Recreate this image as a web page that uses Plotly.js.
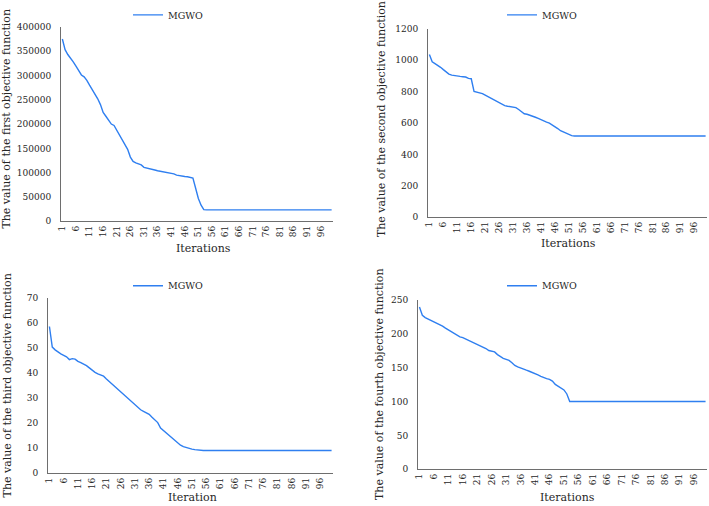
<!DOCTYPE html>
<html>
<head>
<meta charset="utf-8">
<script src="https://cdn.plot.ly/plotly-3.0.1.min.js"></script>
<style>html,body{margin:0;padding:0;background:#fff;}#chart{width:709px;height:506px;}</style>
</head>
<body>
<div id="chart"></div>
<script>
// Iteration index 1..100
var iterations = [];
for (var k = 1; k <= 100; k++) iterations.push(k);

var seriesName = "MGWO";
var iterTickVals = [1, 6, 11, 16, 21, 26, 31, 36, 41, 46, 51, 56, 61, 66, 71, 76, 81, 86, 91, 96];
var iterTickText = ["1", "6", "11", "16", "21", "26", "31", "36", "41", "46", "51", "56", "61", "66", "71", "76", "81", "86", "91", "96"];

var f1 = [375000, 353000, 343000, 336000, 328000, 319000, 310000, 301000, 297000, 290000,
          280000, 271000, 262000, 252000, 240000, 224000, 216000, 209000, 200000, 197000,
          187000, 175000, 165000, 156000, 148000, 132000, 123000, 120000, 118000, 116000,
          111000, 110000, 109000, 107000, 105500, 104000, 103000, 102000, 101000, 100000,
          99000, 97500, 95000, 93500, 92500, 92000, 91500, 90500, 89000, 68000,
          47000, 33000, 24000, 23500, 23500, 23500, 23500, 23500, 23500, 23500,
          23500, 23500, 23500, 23500, 23500, 23500, 23500, 23500, 23500, 23500,
          23500, 23500, 23500, 23500, 23500, 23500, 23500, 23500, 23500, 23500,
          23500, 23500, 23500, 23500, 23500, 23500, 23500, 23500, 23500, 23500,
          23500, 23500, 23500, 23500, 23500, 23500, 23500, 23500, 23500, 23500];

var f2 = [1036, 990, 978, 968, 955, 940, 925, 912, 905, 901,
          899, 897, 895, 893, 884, 882, 801, 797, 793, 787,
          778, 768, 758, 748, 738, 727, 717, 711, 707, 704,
          701, 698, 686, 672, 659, 656, 651, 645, 637, 630,
          621, 613, 606, 600, 590, 578, 565, 551, 542, 533,
          525, 520, 518, 518, 518, 518, 518, 518, 518, 518,
          518, 518, 518, 518, 518, 518, 518, 518, 518, 518,
          518, 518, 518, 518, 518, 518, 518, 518, 518, 518,
          518, 518, 518, 518, 518, 518, 518, 518, 518, 518,
          518, 518, 518, 518, 518, 518, 518, 518, 518, 518];

var f3 = [58.5, 50.3, 49.2, 48.3, 47.6, 47.0, 46.4, 45.3, 45.7, 45.5,
          44.6, 44.1, 43.6, 42.9, 42.0, 41.0, 40.2, 39.6, 39.1, 38.7,
          37.6, 36.6, 35.5, 34.5, 33.4, 32.4, 31.4, 30.4, 29.4, 28.4,
          27.3, 26.3, 25.3, 24.7, 24.2, 23.5, 22.3, 21.3, 20.2, 18.0,
          17.0, 16.0, 15.0, 14.0, 13.0, 12.0, 11.2, 10.6, 10.2, 9.9,
          9.6, 9.4, 9.2, 9.1, 9.1, 9.1, 9.1, 9.1, 9.1, 9.1,
          9.1, 9.1, 9.1, 9.1, 9.1, 9.1, 9.1, 9.1, 9.1, 9.1,
          9.1, 9.1, 9.1, 9.1, 9.1, 9.1, 9.1, 9.1, 9.1, 9.1,
          9.1, 9.1, 9.1, 9.1, 9.1, 9.1, 9.1, 9.1, 9.1, 9.1,
          9.1, 9.1, 9.1, 9.1, 9.1, 9.1, 9.1, 9.1, 9.1, 9.1];

var f4 = [239, 227, 223.5, 221.5, 220, 218, 216, 214, 211, 208,
          205.5, 202.5, 200, 197.5, 195, 194, 192, 190, 188.5, 187,
          184.5, 182, 180, 178, 175, 173.5, 173, 169, 166, 163.5,
          162, 160.5, 157, 153, 151, 149, 147, 146, 144.5, 143,
          141, 139, 137, 135, 133.5, 132.5, 130, 125, 122, 120,
          117, 111, 100, 100, 100, 100, 100, 100, 100, 100,
          100, 100, 100, 100, 100, 100, 100, 100, 100, 100,
          100, 100, 100, 100, 100, 100, 100, 100, 100, 100,
          100, 100, 100, 100, 100, 100, 100, 100, 100, 100,
          100, 100, 100, 100, 100, 100, 100, 100, 100, 100];

var yTitles = ["The value of the first objective function",
               "The value of the second objective function",
               "The value of the third objective function",
               "The value of the fourth objective function"];
var xTitles = ["Iterations", "Iterations", "Iteration", "Iterations"];

var FONT = "DejaVu Serif";
var TXT = "#262626";
var LINE = "#2f7ff0";

function tr(y, idx) {
  var s = idx === 1 ? "" : String(idx);
  return {
    x: iterations, y: y, type: "scatter", mode: "lines", name: seriesName,
    xaxis: "x" + s, yaxis: "y" + s, legend: "legend" + s,
    line: {color: LINE, width: 1.4}, showlegend: true
  };
}

function xax(dom, anchor) {
  return {
    domain: dom, anchor: anchor, range: [0.5, 100.5], showgrid: false, zeroline: false,
    showline: true, linecolor: "#6e6e6e", linewidth: 1, ticks: "",
    tickmode: "array", tickvals: iterTickVals, ticktext: iterTickText, tickangle: -90,
    tickfont: {family: FONT, size: 9, color: TXT}, fixedrange: true
  };
}
function yax(dom, anchor, rng, dt) {
  return {
    domain: dom, anchor: anchor, range: rng, dtick: dt, tick0: 0, showgrid: false, zeroline: false,
    showline: true, linecolor: "#6e6e6e", linewidth: 1, ticks: "",
    tickformat: "d", separatethousands: false, ticklabelstandoff: 7,
    tickfont: {family: FONT, size: 9, color: TXT}, fixedrange: true
  };
}
function leg(xp, yp) {
  return {x: xp, y: yp, xanchor: "left", yanchor: "middle", orientation: "h",
          font: {family: FONT, size: 9.5, color: TXT}, bgcolor: "rgba(0,0,0,0)"};
}

var W = 709, H = 506;
function px(x) { return x / W; }
function py(y) { return 1 - y / H; }

var annotations = [];
function yT(text, xc, yc) {
  annotations.push({text: text, xref: "paper", yref: "paper", x: px(xc), y: py(yc),
    xanchor: "center", yanchor: "middle", textangle: -90, showarrow: false,
    font: {family: FONT, size: 11, color: TXT}});
}
function xT(text, xc, yc) {
  annotations.push({text: text, xref: "paper", yref: "paper", x: px(xc), y: py(yc),
    xanchor: "center", yanchor: "middle", showarrow: false,
    font: {family: FONT, size: 11, color: TXT}});
}
yT(yTitles[0], 6.5, 116);
yT(yTitles[1], 381, 116);
yT(yTitles[2], 7.5, 385);
yT(yTitles[3], 380, 383);
xT(xTitles[0], 203, 246);
xT(xTitles[1], 568, 241);
xT(xTitles[2], 192, 497.5);
xT(xTitles[3], 567, 497);

var layout = {
  width: W, height: H, margin: {l: 0, r: 0, t: 0, b: 0},
  paper_bgcolor: "#ffffff", plot_bgcolor: "#ffffff",
  font: {family: FONT, color: TXT},
  xaxis: xax([px(61), px(333)], "y"),
  yaxis: yax([py(219), py(23)], "x", [0, 400000], 50000),
  xaxis2: xax([px(428), px(707)], "y2"),
  yaxis2: yax([py(215), py(25)], "x2", [0, 1200], 200),
  xaxis3: xax([px(48), px(333)], "y3"),
  yaxis3: yax([py(473), py(296)], "x3", [0, 70], 10),
  xaxis4: xax([px(418), px(707)], "y4"),
  yaxis4: yax([py(469), py(298)], "x4", [0, 250], 50),
  legend: leg(px(128), py(11)),
  legend2: leg(px(502), py(11)),
  legend3: leg(px(128), py(284)),
  legend4: leg(px(502), py(284)),
  annotations: annotations
};

Plotly.newPlot("chart", [tr(f1, 1), tr(f2, 2), tr(f3, 3), tr(f4, 4)], layout, {displayModeBar: false, staticPlot: true});
</script>
</body>
</html>
